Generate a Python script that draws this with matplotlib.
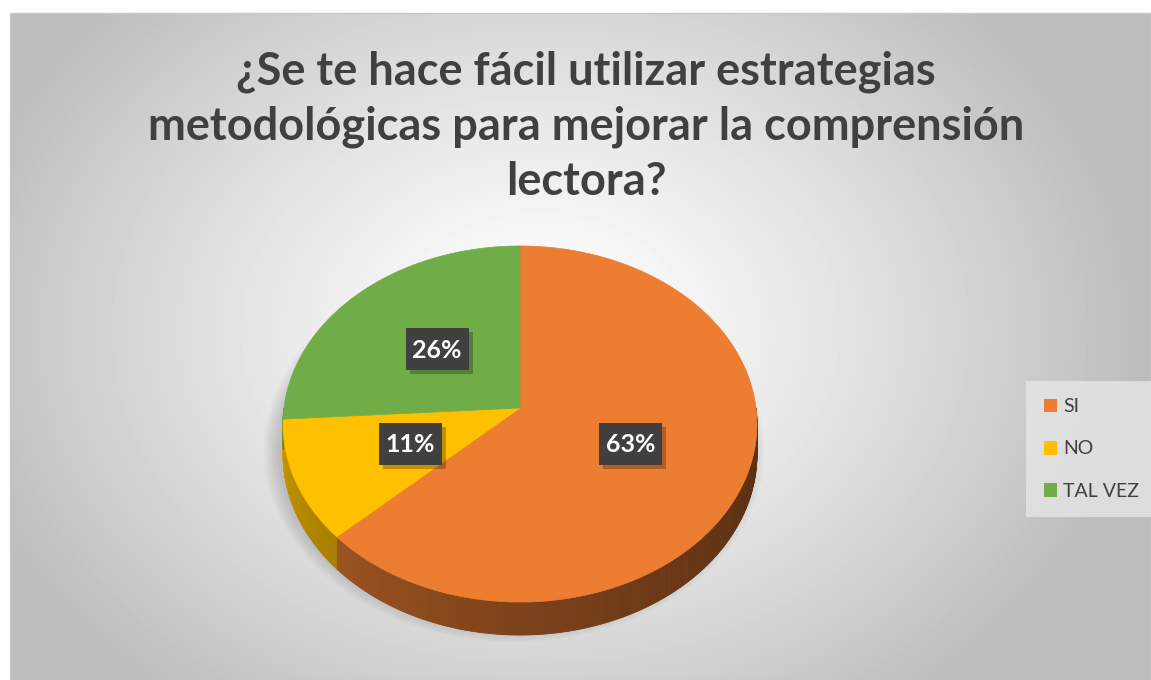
import numpy as np
import matplotlib
matplotlib.use("Agg")
import matplotlib.pyplot as plt
from matplotlib.patches import Polygon, Ellipse, Patch, Rectangle

categories = ["SI", "NO", "TAL VEZ"]
values = [63, 11, 26]
labels = ["63%", "11%", "26%"]
colors = ["#ED7D31", "#FFC000", "#70AD47"]
title = "¿Se te hace fácil utilizar estrategias\nmetodológicas para mejorar la comprensión\nlectora?"

W, H = 1151, 680
fig = plt.figure(figsize=(W / 100, H / 100), dpi=100)
ax = fig.add_axes([0, 0, 1, 1])
ax.set_xlim(0, W)
ax.set_ylim(H, 0)
ax.axis('off')

# background gradient
yy, xx = np.mgrid[13:H, 10:W]
r = np.sqrt(((xx - 540) / 720.0) ** 2 + ((yy - 330) / 560.0) ** 2)
g = np.clip(1.0 - 0.33 * r ** 1.3, 0.74, 1.0)
ax.imshow(g, cmap='gray', vmin=0, vmax=1, extent=[10, W, H, 13],
          aspect='auto', zorder=0)
ax.add_patch(Rectangle((10, 13), W - 10, H - 13, fill=False,
                       edgecolor='#c8c8c8', lw=1, zorder=1))

# pie geometry (perspective projection of a tilted disc)
cx, cy = 520, 408
a, b, k, depth = 236, 176.6, 0.09, 30


def proj(theta, rf=1.0, dz=0.0):
    u = rf * np.sin(np.radians(theta))
    v = -rf * np.cos(np.radians(theta))
    s = 1.0 / (1 - k * v)
    return cx + a * u * s, cy + b * v * s + dz * s


def shade(c, f):
    rgb = np.array(matplotlib.colors.to_rgb(c))
    return tuple(rgb * f)


# soft shadow under the pie
for i in range(8):
    ax.add_patch(Ellipse((cx - 6, cy + 42), 2 * a + 4 * i, 2 * 178 + 4 * i,
                         facecolor='black', alpha=0.02, lw=0, zorder=2))

fracs = np.array(values, dtype=float) / sum(values)
edges = np.concatenate([[0], np.cumsum(fracs) * 360])

# side walls
for i in range(len(values)):
    t0, t1 = max(edges[i], 90), min(edges[i + 1], 270)
    if t1 <= t0:
        continue
    ts = np.linspace(t0, t1, int((t1 - t0) * 2) + 2)
    for j in range(len(ts) - 1):
        tm = 0.5 * (ts[j] + ts[j + 1])
        f = 0.38 + 0.42 * ((tm - 90) / 180.0) ** 1.5
        p = [proj(ts[j]), proj(ts[j + 1]), proj(ts[j + 1], dz=depth), proj(ts[j], dz=depth)]
        ax.add_patch(Polygon(p, closed=True, facecolor=shade(colors[i], f),
                             edgecolor=shade(colors[i], f), lw=0.6, zorder=3))

# top face
for i in range(len(values)):
    ts = np.linspace(edges[i], edges[i + 1], 200)
    pts = [proj(0, rf=0)] + [proj(t) for t in ts]
    ax.add_patch(Polygon(pts, closed=True, facecolor=colors[i],
                         edgecolor=colors[i], lw=0.5, zorder=4))

# data labels
for i in range(len(values)):
    mid = 0.5 * (edges[i] + edges[i + 1])
    x, y = proj(mid, rf=0.5)
    ax.add_patch(Rectangle((x - 31 + 4, y - 21 + 4), 63, 42, facecolor='black',
                           alpha=0.25, lw=0, zorder=5))
    ax.add_patch(Rectangle((x - 31, y - 21), 63, 42, facecolor='#404040',
                           lw=0, zorder=6))
    ax.text(x, y + 1, labels[i], color='white', fontsize=18, fontweight='bold',
            family='Lato', ha='center', va='center', zorder=7)

# title
ax.text(586, 127, title, ha='center', va='center', fontsize=32.5,
        fontweight='bold', family='Lato', color='#404040',
        linespacing=1.38, zorder=5)

# legend
handles = [Patch(facecolor=c, edgecolor='none') for c in colors]
leg = ax.legend(handles, categories, loc='center left',
                bbox_to_anchor=(1032 / W, 1 - 449 / H), frameon=True,
                borderaxespad=0, labelspacing=1.3, handlelength=0.7,
                handleheight=0.7, handletextpad=0.3, borderpad=0.6,
                prop={'family': 'Lato', 'size': 14})
leg.get_frame().set_facecolor('#e6e6e6')
leg.get_frame().set_edgecolor('none')
leg.get_frame().set_boxstyle('square')
for t in leg.get_texts():
    t.set_color('#404040')

fig.savefig("out.png", dpi=100)
